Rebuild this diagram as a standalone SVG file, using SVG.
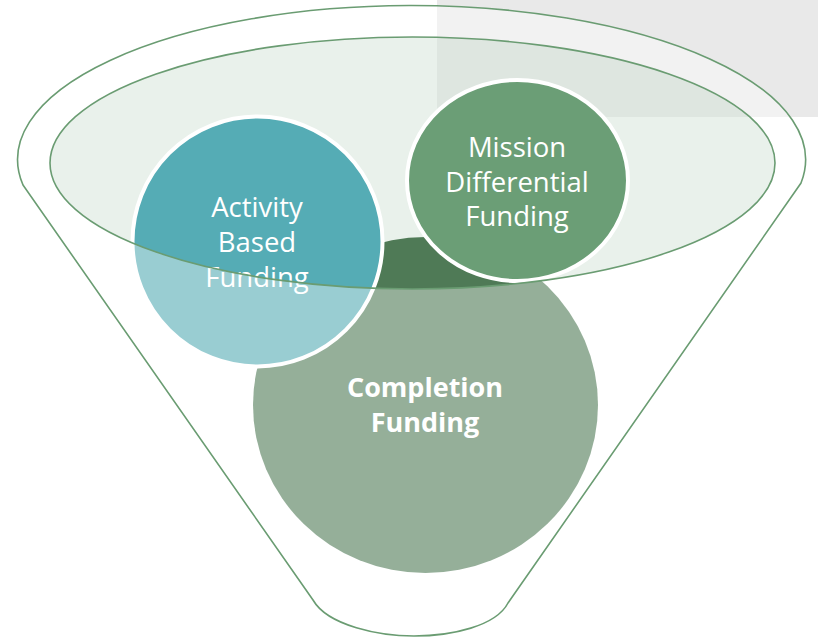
<svg xmlns="http://www.w3.org/2000/svg" width="818" height="637" viewBox="0 0 818 637">
  <defs>
    <style>
      .outline { fill: none; stroke: #6a9c72; stroke-width: 1.6; }
      .veil { fill: #ffffff; fill-opacity: 0.4; }
      .lbl { font-family: "Open Sans", "Noto Sans", "Liberation Sans", sans-serif; font-size: 27.5px; fill: #ffffff; text-anchor: middle; }
      .bold { font-weight: bold; font-size: 27px; }
      .ring { stroke: #ffffff; stroke-width: 4; }
    </style>
  </defs>
  <rect x="0" y="0" width="818" height="637" fill="#ffffff"/>
  <rect x="437" y="0" width="381" height="117" fill="#e9e9e9"/>

  <g id="funnel-top">
    <ellipse cx="412.5" cy="163" rx="362.5" ry="126" class="veil"/>
    <ellipse cx="412.5" cy="163" rx="362.5" ry="126" fill="#6b9e76" fill-opacity="0.15"/>
  </g>

  <g id="completion">
    <ellipse cx="425.5" cy="405" rx="172.5" ry="168" fill="#4f7a56"/>
    <text class="lbl bold" x="425" y="397">Completion</text>
    <text class="lbl bold" x="425" y="432">Funding</text>
  </g>

  <g id="activity">
    <circle cx="257.5" cy="241.5" r="125" fill="#55acb5" class="ring"/>
    <text class="lbl" x="257" y="217">Activity</text>
    <text class="lbl" x="257" y="252">Based</text>
    <text class="lbl" x="257" y="287">Funding</text>
  </g>

  <g id="mission">
    <ellipse cx="517.5" cy="180.5" rx="110.5" ry="100.5" fill="#6b9e76" class="ring"/>
    <text class="lbl" x="517" y="157">Mission</text>
    <text class="lbl" x="517" y="192">Differential</text>
    <text class="lbl" x="517" y="226">Funding</text>
  </g>

  <g id="funnel">
    <path class="veil" fill-rule="evenodd" d="M 23 185 L 313 600 C 328 626 380 636 414 636 C 452 636 496 626 508 603 L 801 183 A 394 154 0 1 0 23 185 Z M 50 163 A 362.5 126 0 1 0 775 163 A 362.5 126 0 1 0 50 163 Z"/>
    <path class="outline" d="M 23 185 L 313 600 C 328 626 380 636 414 636 C 452 636 496 626 508 603 L 801 183 A 394 154 0 1 0 23 185 Z"/>
    <ellipse class="outline" cx="412.5" cy="163" rx="362.5" ry="126"/>
  </g>

  <g id="connectors"/>
</svg>
